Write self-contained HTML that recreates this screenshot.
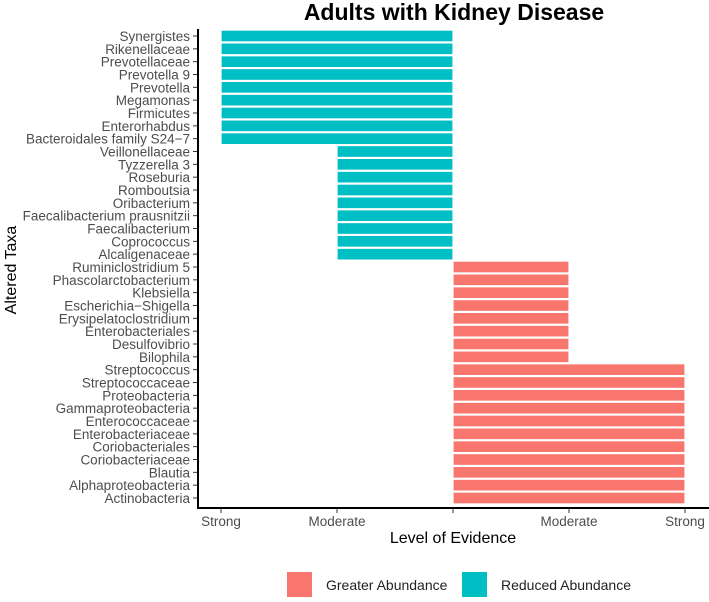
<!DOCTYPE html>
<html><head><meta charset="utf-8"><style>
body{margin:0;background:#fff;width:709px;height:597px;overflow:hidden;font-family:"Liberation Sans",sans-serif}
</style></head><body>
<svg id="chart" width="709" height="597">
<text x="454" y="20" text-anchor="middle" font-size="23" font-weight="bold">Adults with Kidney Disease</text>
<g id="bars"></g>
<g id="yaxis"></g>
<g id="xaxis"></g>
<text x="453" y="543" text-anchor="middle" font-size="16" fill="#000">Level of Evidence</text>
<text transform="translate(16,270) rotate(-90)" text-anchor="middle" font-size="16">Altered Taxa</text>
<g>
<rect x="287" y="572" width="25" height="25" fill="#F8766D"/>
<text x="326" y="590" font-size="14" fill="#222">Greater Abundance</text>
<rect x="462" y="572" width="25" height="25" fill="#00BFC4"/>
<text x="501" y="590" font-size="14" fill="#222">Reduced Abundance</text>
</g>
</svg>
<script>
const categories=["Synergistes","Rikenellaceae","Prevotellaceae","Prevotella 9","Prevotella","Megamonas","Firmicutes","Enterorhabdus","Bacteroidales family S24\u22127","Veillonellaceae","Tyzzerella 3","Roseburia","Romboutsia","Oribacterium","Faecalibacterium prausnitzii","Faecalibacterium","Coprococcus","Alcaligenaceae","Ruminiclostridium 5","Phascolarctobacterium","Klebsiella","Escherichia\u2212Shigella","Erysipelatoclostridium","Enterobacteriales","Desulfovibrio","Bilophila","Streptococcus","Streptococcaceae","Proteobacteria","Gammaproteobacteria","Enterococcaceae","Enterobacteriaceae","Coriobacteriales","Coriobacteriaceae","Blautia","Alphaproteobacteria","Actinobacteria"];
const values=[-2,-2,-2,-2,-2,-2,-2,-2,-2,-1,-1,-1,-1,-1,-1,-1,-1,-1,1,1,1,1,1,1,1,1,2,2,2,2,2,2,2,2,2,2,2];
const tickValues=[-2,-1,0,1,2];
const tickLabels=["Strong","Moderate","","Moderate","Strong"];
const NS="http://www.w3.org/2000/svg";
const x=v=>453+v*116;
const y0=36, pitch=(498-36)/36;
const y=i=>y0+i*pitch;
function mk(t,a,p){const e=document.createElementNS(NS,t);for(const k in a)e.setAttribute(k,a[k]);p.appendChild(e);return e;}
const bars=document.getElementById('bars'),ya=document.getElementById('yaxis'),xa=document.getElementById('xaxis');
categories.forEach((c,i)=>{
 const v=values[i];
 const r=mk('rect',{x:Math.min(x(0),x(v)),y:y(i)-pitch/2+0.5,width:Math.abs(x(v)-x(0)),height:pitch-1,fill:v<0?'#00BFC4':'#F8766D',stroke:'#fff','stroke-width':1.2},bars);
 
 
 const t=mk('text',{x:190,y:y(i)+5,'text-anchor':'end','font-size':13.5,fill:'#4d4d4d',textLength:0},ya);
 t.removeAttribute('textLength');
 t.textContent=c;
 
 
 mk('line',{x1:193,x2:198,y1:y(i),y2:y(i),stroke:'#333','stroke-width':1},ya);
});
const al=mk('line',{x1:198,x2:198,y1:29,y2:509,stroke:'#000','stroke-width':2},ya);


const bl=mk('line',{x1:197,x2:709,y1:508,y2:508,stroke:'#000','stroke-width':2},xa);


tickValues.forEach((v,i)=>{
 mk('line',{x1:x(v),x2:x(v),y1:508,y2:513,stroke:'#333','stroke-width':1},xa);
 const t=mk('text',{x:x(v),y:526,'text-anchor':'middle','font-size':13.5,fill:'#4d4d4d'},xa);
 t.textContent=tickLabels[i];
 
 
});
</script>
</body></html>
